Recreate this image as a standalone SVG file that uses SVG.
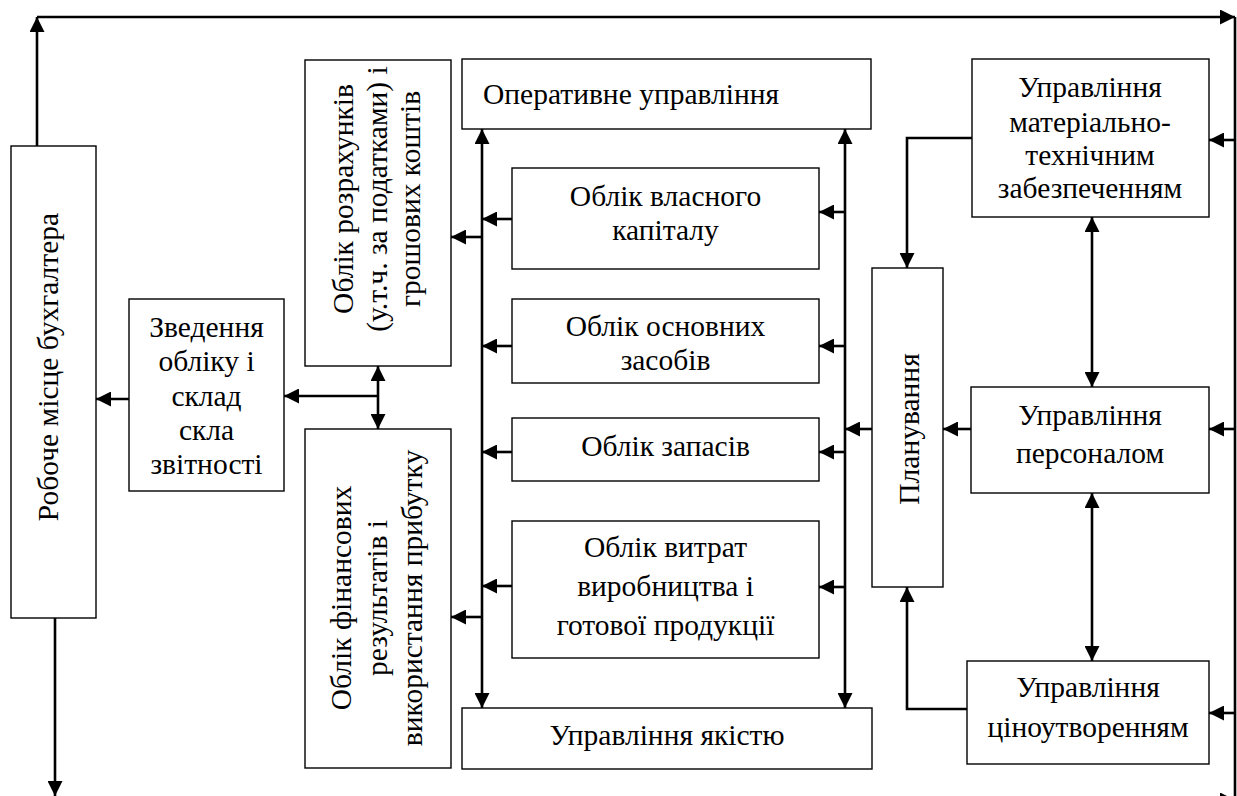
<svg xmlns="http://www.w3.org/2000/svg" width="1237" height="796" viewBox="0 0 1237 796">
<style>
.box{fill:#fff;stroke:#000;stroke-width:1.4}
.t{font-family:"Liberation Serif","DejaVu Serif",serif;font-size:29.5px;fill:#000;text-anchor:middle}
.c{fill:none;stroke:#000;stroke-width:2.6}
.a{marker-end:url(#ah)}
.d{marker-start:url(#ah);marker-end:url(#ah)}
</style>
<defs>
<marker id="ah" markerUnits="userSpaceOnUse" markerWidth="15" markerHeight="15" refX="15" refY="7.5" orient="auto-start-reverse" viewBox="0 0 15 15">
<path d="M0,0 L15,7.5 L0,15 z" fill="#000"/>
</marker>
</defs>
<rect width="1237" height="796" fill="#fff"/>

<g id="connectors">
<path class="c a" d="M37,146 L37,17"/>
<path class="c a" d="M37,17 L1235,17"/>
<path class="c" d="M1235,17 L1235,800"/>
<path class="c a" d="M55,618 L55,796"/>
<path class="c a" d="M55,800 L1235,800"/>
<path class="c a" d="M1235,140 L1209,140"/>
<path class="c a" d="M1235,429 L1209,429"/>
<path class="c a" d="M1235,713 L1209,713"/>
<path class="c d" d="M1092,217 L1092,387"/>
<path class="c d" d="M1092,493 L1092,661"/>
<path class="c a" d="M972,138 L907,138 L907,268"/>
<path class="c a" d="M967,709 L907,709 L907,587"/>
<path class="c a" d="M971,429 L943,429"/>
<path class="c a" d="M872,429 L845,429"/>
<path class="c d" d="M845,129 L845,708"/>
<path class="c d" d="M482,129 L482,708"/>
<path class="c a" d="M845,212 L819,212"/>
<path class="c a" d="M845,346 L819,346"/>
<path class="c a" d="M845,452 L819,452"/>
<path class="c a" d="M845,587 L819,587"/>
<path class="c a" d="M512,219 L482,219"/>
<path class="c a" d="M512,346 L482,346"/>
<path class="c a" d="M512,452 L482,452"/>
<path class="c a" d="M512,586 L482,586"/>
<path class="c a" d="M482,237 L451,237"/>
<path class="c a" d="M482,617 L451,617"/>
<path class="c d" d="M378,366 L378,429"/>
<path class="c a" d="M378,396 L284,396"/>
<path class="c a" d="M129,399 L96,399"/>
</g>

<g id="roboche">
<rect class="box" x="11" y="146" width="85" height="472"/>
<text class="t" transform="translate(58,367) rotate(-90)">Робоче місце бухгалтера</text>
</g>

<g id="zvedennia">
<rect class="box" x="129" y="299" width="155" height="192"/>
<text class="t" x="206.5" y="337">Зведення</text>
<text class="t" x="206.5" y="371">обліку і</text>
<text class="t" x="206.5" y="406">склад</text>
<text class="t" x="206.5" y="440">скла</text>
<text class="t" x="206.5" y="474">звітності</text>
</g>

<g id="rozrakhunky">
<rect class="box" x="305" y="60" width="146" height="306"/>
<text class="t" transform="translate(353,199) rotate(-90)">Облік розрахунків</text>
<text class="t" transform="translate(387,199) rotate(-90)">(у.т.ч. за податками) і</text>
<text class="t" transform="translate(420,199) rotate(-90)">грошових коштів</text>
</g>

<g id="finrez">
<rect class="box" x="305" y="429" width="146" height="339"/>
<text class="t" transform="translate(351,598) rotate(-90)">Облік фінансових</text>
<text class="t" transform="translate(387,598) rotate(-90)">результатів і</text>
<text class="t" transform="translate(422,598) rotate(-90)">використання прибутку</text>
</g>

<g id="operatyvne">
<rect class="box" x="462" y="59" width="409" height="70"/>
<text class="t" x="483" y="104" style="text-anchor:start">Оперативне управління</text>
</g>

<g id="kapital">
<rect class="box" x="512" y="168" width="307" height="101"/>
<text class="t" x="665.5" y="206">Облік власного</text>
<text class="t" x="665.5" y="240">капіталу</text>
</g>

<g id="osnovni">
<rect class="box" x="512" y="299" width="307" height="84"/>
<text class="t" x="665.5" y="336">Облік основних</text>
<text class="t" x="665.5" y="370">засобів</text>
</g>

<g id="zapasy">
<rect class="box" x="512" y="418" width="307" height="63"/>
<text class="t" x="665.5" y="456">Облік запасів</text>
</g>

<g id="vytraty">
<rect class="box" x="512" y="521" width="307" height="137"/>
<text class="t" x="665.5" y="557">Облік витрат</text>
<text class="t" x="665.5" y="596">виробництва і</text>
<text class="t" x="665.5" y="635">готової продукції</text>
</g>

<g id="yakist">
<rect class="box" x="462" y="708" width="410" height="61"/>
<text class="t" x="667" y="745">Управління якістю</text>
</g>

<g id="planuvannia">
<rect class="box" x="872" y="268" width="71" height="319"/>
<text class="t" transform="translate(919,429) rotate(-90)">Планування</text>
</g>

<g id="mtz">
<rect class="box" x="972" y="59" width="237" height="158"/>
<text class="t" x="1090" y="97">Управління</text>
<text class="t" x="1090" y="132">матеріально-</text>
<text class="t" x="1090" y="165">технічним</text>
<text class="t" x="1090" y="198">забезпеченням</text>
</g>

<g id="personal">
<rect class="box" x="971" y="387" width="238" height="106"/>
<text class="t" x="1090" y="425">Управління</text>
<text class="t" x="1090" y="463">персоналом</text>
</g>

<g id="tsinoutvorennia">
<rect class="box" x="967" y="661" width="242" height="103"/>
<text class="t" x="1088" y="697">Управління</text>
<text class="t" x="1088" y="737">ціноутворенням</text>
</g>
</svg>
